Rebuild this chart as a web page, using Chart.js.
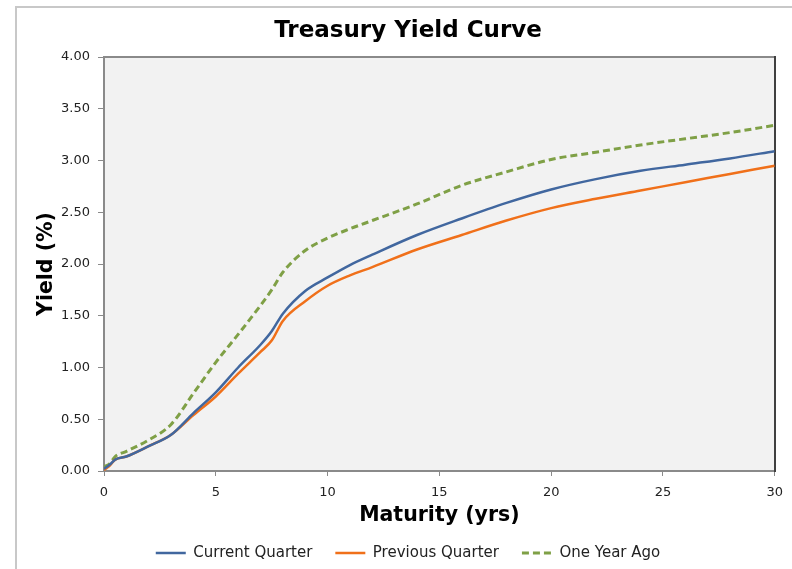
<!DOCTYPE html>
<html>
<head>
<meta charset="utf-8">
<script src="https://cdn.jsdelivr.net/npm/chart.js@4.4.0/dist/chart.umd.min.js"></script>
<style>
  body { margin: 0; background: #fff; }
  canvas { display: block; }
</style>
</head>
<body>
<canvas id="yieldChart" width="792" height="569"></canvas>
<script>
var maturities = [0, 0.25, 0.5, 1, 2, 3, 4, 5, 6, 7, 7.5, 8, 9, 10, 11, 12, 14, 16, 18, 20, 22, 24, 26, 28, 30]
var currentQuarter = [0.02, 0.06, 0.11, 0.14, 0.24, 0.35, 0.56, 0.76, 1.00, 1.22, 1.35, 1.52, 1.74, 1.87, 1.99, 2.09, 2.28, 2.44, 2.59, 2.72, 2.82, 2.90, 2.96, 3.02, 3.09]
var previousQuarter = [0.01, 0.05, 0.11, 0.14, 0.24, 0.35, 0.54, 0.72, 0.94, 1.15, 1.26, 1.45, 1.64, 1.79, 1.89, 1.97, 2.14, 2.28, 2.42, 2.54, 2.63, 2.71, 2.79, 2.87, 2.95]
var oneYearAgo = [0.04, 0.07, 0.14, 0.19, 0.30, 0.45, 0.75, 1.05, 1.32, 1.60, 1.75, 1.92, 2.13, 2.25, 2.34, 2.42, 2.58, 2.76, 2.89, 3.01, 3.08, 3.15, 3.21, 3.27, 3.34]
var seriesNames = ["Current Quarter", "Previous Quarter", "One Year Ago"]
var chartTitle = "Treasury Yield Curve"
var xTitle = "Maturity (yrs)"
var yTitle = "Yield (%)"

function toPoints(values) {
    return maturities.map((m, i) => ({ x: m, y: values[i] }))
}

// frame, plot background and legend placement
var framePlugin = {
    id: 'frame',
    beforeInit(chart) {
        let legend = chart.legend
        let origFit = legend.fit
        legend.fit = function () {
            origFit.call(this)
            this.height = 46.5
        }
    },
    beforeDraw(chart) {
        let ctx = chart.ctx
        let a = chart.chartArea
        ctx.save()
        ctx.strokeStyle = '#c8c8c8'
        ctx.lineWidth = 2
        ctx.strokeRect(16, 7, 800, 600)
        ctx.fillStyle = '#f2f2f2'
        ctx.fillRect(a.left, a.top, a.right - a.left, a.bottom - a.top)
        ctx.strokeStyle = '#8a8a8a'
        ctx.lineWidth = 2
        ctx.beginPath()
        ctx.moveTo(a.left, a.top)
        ctx.lineTo(a.right, a.top)
        ctx.stroke()
        ctx.restore()
    }
}

var lineStyle = {
    fill: false,
    pointRadius: 0,
    pointHoverRadius: 0,
    cubicInterpolationMode: 'monotone'
}

// legend lines take width, colour and dash from the dataset line
function legendLabels(chart) {
    let items = Chart.defaults.plugins.legend.labels.generateLabels(chart)
    items.forEach((item, i) => {
        let ds = chart.data.datasets[i]
        item.lineWidth = ds.borderWidth
        item.strokeStyle = ds.borderColor
        item.lineDash = ds.borderDash || []
    })
    return items
}

var canvas = document.getElementById("yieldChart").getContext('2d')

var chart = new Chart(canvas, {
    type: 'line',
    data: {
        datasets: [
            Object.assign({ label: seriesNames[0], data: toPoints(currentQuarter), borderColor: '#41679f', backgroundColor: '#41679f', borderWidth: 2.5 }, lineStyle),
            Object.assign({ label: seriesNames[1], data: toPoints(previousQuarter), borderColor: '#f0701a', backgroundColor: '#f0701a', borderWidth: 2.5 }, lineStyle),
            Object.assign({ label: seriesNames[2], data: toPoints(oneYearAgo), borderColor: '#7fa046', backgroundColor: '#7fa046', borderWidth: 3, borderDash: [7, 4] }, lineStyle)
        ]
    },
    options: {
        responsive: false,
        animation: false,
        layout: { padding: { top: 7, left: 24, right: 0, bottom: 0 } },
        plugins: {
            title: {
                display: true,
                text: chartTitle,
                color: '#000',
                font: { family: 'DejaVu Sans', size: 23, weight: 'bold' },
                padding: { top: 10, bottom: 12.4 }
            },
            legend: {
                position: 'bottom',
                labels: {
                    usePointStyle: true,
                    pointStyle: 'line',
                    pointStyleWidth: 30,
                    padding: 23,
                    color: '#222',
                    font: { family: 'DejaVu Sans', size: 15 },
                    generateLabels: legendLabels
                }
            },
            tooltip: { enabled: false }
        },
        scales: {
            x: {
                type: 'linear',
                min: 0,
                max: 30,
                ticks: {
                    stepSize: 5,
                    padding: 9,
                    color: '#222',
                    font: { family: 'DejaVu Sans', size: 13 }
                },
                grid: { drawOnChartArea: false, tickLength: 5, tickColor: '#8a8a8a', tickWidth: 1 },
                border: { color: '#8a8a8a', width: 2 },
                title: {
                    display: true,
                    text: xTitle,
                    color: '#000',
                    font: { family: 'DejaVu Sans', size: 20.5, weight: 'bold' },
                    padding: { top: 0, bottom: -5.8 }
                },
                afterFit(scale) { scale.height = 51.5 }
            },
            y: {
                min: 0,
                max: 4,
                ticks: {
                    stepSize: 0.5,
                    padding: 8,
                    color: '#222',
                    font: { family: 'DejaVu Sans', size: 13 },
                    callback: v => v.toFixed(2)
                },
                grid: { drawOnChartArea: false, tickLength: 6, tickColor: '#8a8a8a', tickWidth: 1 },
                border: { color: '#8a8a8a', width: 2 },
                title: {
                    display: true,
                    text: yTitle,
                    color: '#000',
                    font: { family: 'DejaVu Sans', size: 20.5, weight: 'bold' },
                    padding: { top: 10, bottom: 0 }
                },
                afterFit(scale) { scale.width = 80 }
            },
            y2: {
                position: 'right',
                min: 0,
                max: 4,
                ticks: { display: false },
                grid: { display: false },
                border: { color: '#404040', width: 2 },
                afterFit(scale) { scale.width = 15 }
            }
        }
    },
    plugins: [framePlugin]
})
</script>
</body>
</html>
